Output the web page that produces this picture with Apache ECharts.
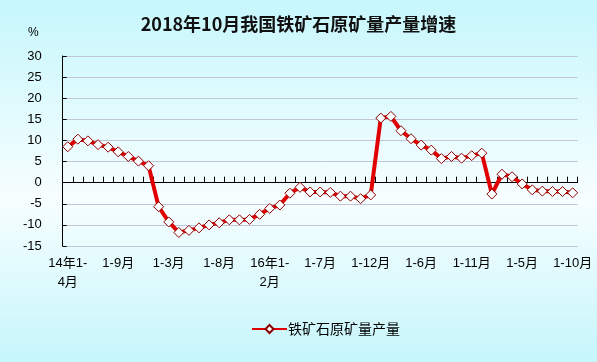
<!DOCTYPE html>
<html>
<head>
<meta charset="utf-8">
<script src="https://cdn.jsdelivr.net/npm/echarts@6/dist/echarts.min.js"></script>
<style>
html,body{margin:0;padding:0;}
#c{width:597px;height:362px;}
</style>
</head>
<body>
<div id="c"></div>
<script>
var titleText = '2018年10月我国铁矿石原矿量产量增速';
var seriesName = '铁矿石原矿量产量';
var unitLabel = '%';
var categories = [
  '14年1-4月','1-5月','1-6月','1-7月','1-8月','1-9月','1-10月','1-11月','1-12月',
  '15年1-2月','1-3月','1-4月','1-5月','1-6月','1-7月','1-8月','1-9月','1-10月','1-11月','1-12月',
  '16年1-2月','1-3月','1-4月','1-5月','1-6月','1-7月','1-8月','1-9月','1-10月','1-11月','1-12月',
  '17年1-2月','1-3月','1-4月','1-5月','1-6月','1-7月','1-8月','1-9月','1-10月','1-11月','1-12月',
  '18年1-2月','1-3月','1-4月','1-5月','1-6月','1-7月','1-8月','1-9月','1-10月'
];
var growth = [
  8.5, 10.3, 9.9, 9.0, 8.4, 7.3, 6.2, 5.1, 4.0,
  -5.7, -9.3, -11.8, -11.3, -10.7, -10.0, -9.5, -8.8, -8.8, -8.7, -7.5,
  -6.1, -5.3, -2.5, -1.1, -2.2, -2.2, -2.3, -3.2, -3.2, -3.8, -2.9,
  15.3, 15.7, 12.3, 10.4, 8.9, 7.7, 5.7, 6.2, 5.8, 6.4, 7.0,
  -2.7, 2.0, 1.4, -0.3, -1.7, -2.0, -2.1, -2.1, -2.4
];
var yMin = -15, yMax = 30, yStep = 5;

var FONT = '"Liberation Sans", "Noto Sans CJK SC", sans-serif';
var chart = echarts.init(document.getElementById('c'), null, {renderer: 'canvas'});
chart.setOption({
  animation: false,
  backgroundColor: {
    type: 'linear', x: 0, y: 0, x2: 0, y2: 1,
    colorStops: [
      {offset: 0, color: '#c6f7fc'},
      {offset: 0.55, color: '#f7feff'},
      {offset: 1, color: '#c6f6fb'}
    ]
  },
  title: {
    text: titleText, left: 'center', top: 10,
    textStyle: {fontSize: 18, fontWeight: 'bold', color: '#111', fontFamily: '"Noto Sans CJK SC", sans-serif'}
  },
  graphic: [{
    type: 'text', left: 28, top: 27,
    style: {text: unitLabel, fontSize: 12, fill: '#000', fontFamily: FONT}
  }],
  legend: {
    data: [seriesName], left: 246, top: 317,
    itemWidth: 35, itemHeight: 10,
    textStyle: {fontSize: 14, color: '#000', padding: [0, 0, 0, -4], fontFamily: '"Noto Sans CJK SC", sans-serif'}
  },
  grid: {left: 62.7, right: 19.3, top: 56, bottom: 116, containLabel: false},
  xAxis: [{
    type: 'category', data: categories, boundaryGap: true,
    axisLine: {onZero: true, lineStyle: {color: '#000', width: 1}},
    axisTick: {show: true, inside: true, length: 6, interval: 0, lineStyle: {color: '#000'}},
    axisLabel: {show: false},
    splitLine: {show: false}
  }, {
    type: 'category', data: categories, boundaryGap: true, position: 'bottom',
    axisLine: {show: false, onZero: false},
    axisTick: {show: false},
    axisLabel: {
      show: true, interval: 4, margin: 8, fontSize: 13, lineHeight: 19, color: '#000', fontFamily: FONT,
      formatter: function (v) { return v.length > 5 ? v.slice(0, 5) + '\n' + v.slice(5) : v; }
    }
  }],
  yAxis: {
    type: 'value', min: yMin, max: yMax, interval: yStep,
    axisLine: {show: true, lineStyle: {color: '#000'}},
    axisTick: {show: true, inside: true, length: 4, lineStyle: {color: '#000'}},
    axisLabel: {fontSize: 13, color: '#000', margin: 21, fontFamily: FONT},
    splitLine: {show: true, lineStyle: {color: '#c2c4d8', width: 1}}
  },
  series: [{
    name: seriesName, type: 'line', data: growth, xAxisIndex: 0,
    symbol: 'diamond', symbolSize: 10, showAllSymbol: true,
    lineStyle: {color: '#e00000', width: 4},
    itemStyle: {color: '#ffffff', borderColor: '#8a0000', borderWidth: 1},
    z: 3
  }]
});
</script>
</body>
</html>
